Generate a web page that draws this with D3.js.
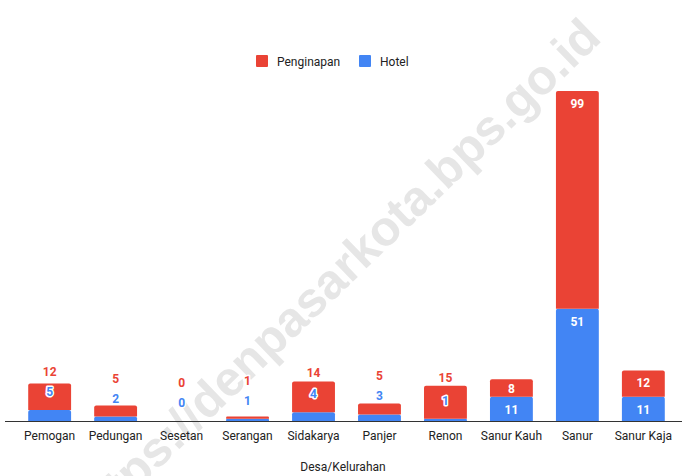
<!DOCTYPE html>
<html>
<head>
    <meta charset="utf-8">
    <title>Akomodasi per Desa/Kelurahan</title>
    <script src="https://d3js.org/d3.v7.min.js"></script>
    <style>
        body { margin: 0; background: #fff; }
        text { font-family: Roboto, Arial, sans-serif; }
    </style>
</head>
<body>
    <svg width="682" height="476"></svg>

    <script>
        // data
        const desa = ["Pemogan", "Pedungan", "Sesetan", "Serangan", "Sidakarya",
            "Panjer", "Renon", "Sanur Kauh", "Sanur", "Sanur Kaja"];
        const hotel = [5, 2, 0, 1, 4, 3, 1, 11, 51, 11];
        const penginapan = [12, 5, 0, 1, 14, 5, 15, 8, 99, 12];
        const seriesNames = ["Penginapan", "Hotel"];

        const RED = "#ea4335", BLUE = "#4285f4";

        let svg = d3.select("svg"),
            width = +svg.attr("width"),
            height = +svg.attr("height");

        // watermark behind everything
        svg.append("text")
            .attr("transform", "translate(603,40) rotate(-44)")
            .attr("text-anchor", "end")
            .style("font-family", "'Liberation Sans', Arial, sans-serif")
            .style("font-size", "49px")
            .style("font-weight", "bold")
            .attr("fill", "#e6e6e6")
            .text("https://denpasarkota.bps.go.id");

        let x = d3.scaleBand().domain(desa).range([17, 676]).paddingInner(0.35).paddingOuter(0.17);
        let y = d3.scaleLinear().domain([0, 150]).range([421, 91]);

        let rows = desa.map((d, i) => ({ desa: d, Hotel: hotel[i], Penginapan: penginapan[i] }));
        let stacked = d3.stack().keys(["Hotel", "Penginapan"])(rows);
        let color = { Hotel: BLUE, Penginapan: RED };

        let g = svg.append("g");

        stacked.forEach(s => {
            g.selectAll(null)
                .data(s)
                .join("path")
                .attr("fill", color[s.key])
                .attr("d", d => {
                    let x0 = x(d.data.desa), w = x.bandwidth();
                    let top = y(d[1]), bot = y(d[0]);
                    let h = bot - top;
                    if (h <= 0) return "";
                    let r = Math.min(2, h / 2);
                    // small rounding at the top corners
                    return `M${x0},${bot}V${top + r}Q${x0},${top} ${x0 + r},${top}` +
                        `H${x0 + w - r}Q${x0 + w},${top} ${x0 + w},${top + r}V${bot}Z`;
                });
        });

        // baseline
        svg.append("line")
            .attr("x1", 5).attr("x2", 682)
            .attr("y1", y(0) + 0.5).attr("y2", y(0) + 0.5)
            .attr("stroke", "#333").attr("stroke-width", 1);

        // value labels
        let lbl = svg.append("g")
            .style("font-size", "12px")
            .style("font-weight", "bold")
            .attr("text-anchor", "middle")
            .attr("dominant-baseline", "central");

        desa.forEach((d, i) => {
            let cx = x(d) + x.bandwidth() / 2;
            let hTop = y(hotel[i]);
            let pTop = y(hotel[i] + penginapan[i]);
            let hSize = y(0) - hTop;
            if (hSize >= 16) {
                // inside the segments
                let hy = Math.min(hTop + 13, (hTop + y(0)) / 2 + 1);
                let py = Math.min(pTop + 13, (pTop + hTop) / 2 + 1);
                lbl.append("text").attr("x", cx).attr("y", hy).attr("fill", "#fff").text(hotel[i]);
                lbl.append("text").attr("x", cx).attr("y", py).attr("fill", "#fff").text(penginapan[i]);
            } else {
                // above the bar, with a white halo
                let hy = hTop - 18;
                let py = Math.min(pTop - 8, hy - 20);
                [[hy, BLUE, hotel[i]], [py, RED, penginapan[i]]].forEach(([yy, c, v]) => {
                    lbl.append("text").attr("x", cx).attr("y", yy)
                        .attr("fill", "none").attr("stroke", "#fff").attr("stroke-width", 3)
                        .attr("stroke-linejoin", "round").text(v);
                    lbl.append("text").attr("x", cx).attr("y", yy).attr("fill", c).text(v);
                });
            }
        });

        // category labels
        svg.append("g")
            .selectAll("text")
            .data(desa)
            .join("text")
            .attr("x", d => x(d) + x.bandwidth() / 2)
            .attr("y", 440)
            .attr("text-anchor", "middle")
            .attr("fill", "#222")
            .style("font-size", "12px")
            .text(d => d);

        // axis title
        svg.append("text")
            .attr("x", 343).attr("y", 471)
            .attr("text-anchor", "middle")
            .attr("fill", "#222")
            .style("font-size", "12px")
            .text("Desa/Kelurahan");

        // legend
        let legendX = [256, 359];
        let lg = svg.append("g");
        seriesNames.forEach((s, i) => {
            lg.append("rect")
                .attr("x", legendX[i]).attr("y", 55)
                .attr("width", 12).attr("height", 12).attr("rx", 1)
                .attr("fill", s === "Hotel" ? BLUE : RED);
            lg.append("text")
                .attr("x", legendX[i] + 21).attr("y", 65.5)
                .attr("fill", "#222")
                .style("font-size", "12px")
                .text(s);
        });
    </script>
</body>
</html>
